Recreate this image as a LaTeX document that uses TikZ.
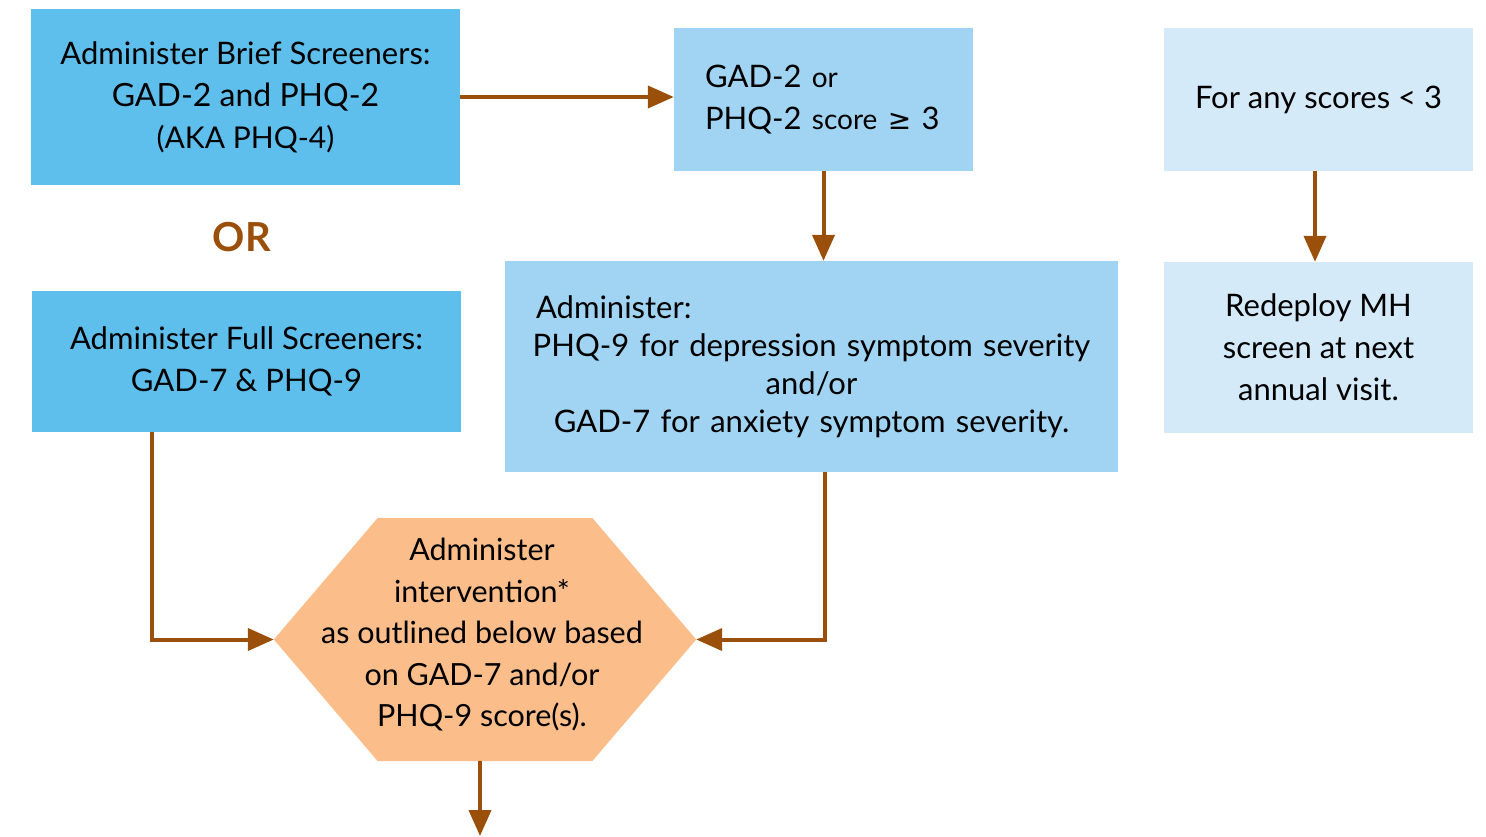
\documentclass[tikz,border=0pt]{standalone}
\usepackage{fontspec}
\setmainfont{Lato}
\newfontfamily\symfont{DejaVu Sans}
\usetikzlibrary{arrows.meta,calc}
\definecolor{boxA}{HTML}{5EBFEC}
\definecolor{boxC}{HTML}{A0D4F2}
\definecolor{boxE}{HTML}{D5EAF8}
\definecolor{hexc}{HTML}{FBBD8A}
\definecolor{brn}{HTML}{9A4F0A}
\tikzset{
  box/.style={rectangle, inner sep=0pt, align=center, font=\fontsize{31}{42}\selectfont, text=black},
  arr/.style={draw=brn, line width=4pt, -{Triangle[length=26pt,width=22pt]}},
}
\begin{document}
\begin{tikzpicture}[x=1pt,y=-1pt]
\useasboundingbox (0,0) rectangle (1486,836);
\node[box, fill=boxA, minimum width=429pt, minimum height=176pt] (A) at (245.5,97)
  {Administer Brief Screeners:\\{\fontsize{32}{42}\selectfont GAD-2 and PHQ-2}\\{\fontsize{30}{42}\selectfont (AKA PHQ-4)}};
\node[font=\fontsize{40}{40}\selectfont\bfseries, text=brn, inner sep=0pt] (or) at (242,237) {OR};
\node[box, fill=boxA, minimum width=429pt, minimum height=141pt] (B) at (246.5,361.5)
  {Administer Full Screeners:\\GAD-7 \& PHQ-9};
\node[box, fill=boxC, minimum width=299pt, minimum height=143pt, align=left, text width=237pt, inner xsep=31pt] (C) at (823.5,99.5)
  {GAD-2 {\fontsize{28}{42}\selectfont or}\\PHQ-2 {\fontsize{28}{42}\selectfont score {\symfont ≥}} 3};
\node[box, fill=boxC, minimum width=613pt, minimum height=211pt, text width=590pt, inner xsep=11.5pt, font=\fontsize{31}{38}\selectfont] (D) at (811.5,366.5)
  {\makebox[\linewidth][l]{\hspace*{19.5pt}Administer:}\\PHQ-9 for depression symptom severity\\and/or\\GAD-7 for anxiety symptom severity.};
\node[box, fill=boxE, minimum width=309pt, minimum height=143pt] (E) at (1318.5,99.5)
  {For any scores < 3};
\node[box, fill=boxE, minimum width=309pt, minimum height=171pt] (F) at (1318.5,347.5)
  {Redeploy MH\\screen at next\\annual visit.};
\node[rectangle, inner sep=0pt, minimum width=214pt, minimum height=243pt] (hex) at (485,639.5) {};
\coordinate (hexL) at ([xshift=-104pt]hex.west);
\coordinate (hexR) at ([xshift=104pt]hex.east);
\fill[hexc] (hex.north west) -- (hex.north east) -- (hexR) -- (hex.south east) -- (hex.south west) -- (hexL) -- cycle;
\node[box, font=\fontsize{30.5}{41.5}\selectfont] (hext) at (482,635)
  {Administer\\intervention*\\as outlined below based\\on GAD-7 and/or\\PHQ-9 score(s).};
\coordinate (hexB) at ([xshift=-5pt]hex.south);
\coordinate (endB) at (480,836);
\draw[arr] (A.east) -- (A.east -| C.west);
\draw[arr] (C.south) -- (C.south |- D.north);
\draw[arr] ([xshift=-3.5pt]E.south) -- ([xshift=-3.5pt]F.north);
\draw[arr] ([xshift=-94.5pt]B.south) |- (hexL);
\draw[arr] ([xshift=13.5pt]D.south) |- (hexR);
\draw[arr] (hexB) -- (endB);
\end{tikzpicture}
\end{document}
